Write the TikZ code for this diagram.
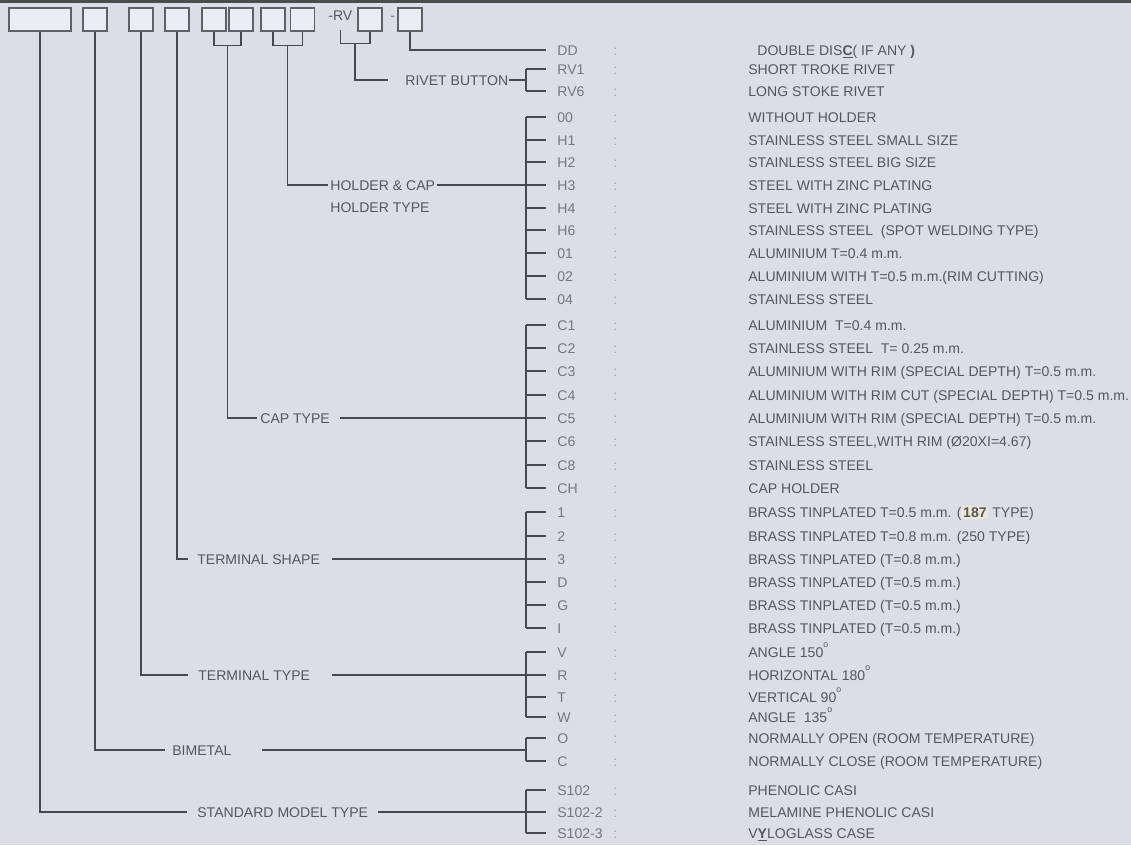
\documentclass[tikz,border=0pt]{standalone}
\usepackage{fontspec}
\setmainfont{Liberation Sans}
\usepackage{xcolor}
\usetikzlibrary{calc,positioning}
\definecolor{bggray}{RGB}{221,221,233}
\definecolor{inkgray}{RGB}{86,86,96}
\definecolor{codegray}{RGB}{118,118,128}
\definecolor{colgray}{RGB}{160,160,170}
\definecolor{linegray}{RGB}{72,72,82}
\definecolor{boxfill}{RGB}{236,236,244}
\definecolor{boxline}{RGB}{96,96,106}
\definecolor{hilite}{RGB}{236,232,212}
\newcommand{\dego}{\raisebox{1.3ex}{\fontsize{5}{5}\selectfont o}}

\begin{document}
\begin{tikzpicture}[x=0.02cm, y=-0.02cm,
    wire/.style={draw=linegray, line width=0.7pt},
    cellbox/.style={draw=boxline, fill=boxfill, line width=0.8pt,
      minimum width=0.48cm, minimum height=0.46cm, inner sep=0pt},
    txt/.style={font=\fontsize{8}{9}\selectfont, text height=5.8pt,
      text depth=0pt, inner ysep=1pt, anchor=west},
    codetxt/.style={txt, text=codegray, inner xsep=0.22cm},
    coltxt/.style={txt, text=colgray, inner xsep=0pt},
    desctxt/.style={txt, text=inkgray, inner xsep=0pt},
    labtxt/.style={txt, text=inkgray, inner xsep=0pt}]
    % page
    \fill[bggray] (0,0) rectangle (1131,845);
    \fill[gray!60!black] (0,0) rectangle (1131,3);
    \coordinate (spine) at (526,0);

    % model number cells
    \node[cellbox, minimum width=1.24cm] (b1) at (40,19.5) {};
    \node[cellbox] (b2) at (95,19.5) {};
    \node[cellbox] (b3) at (141,19.5) {};
    \node[cellbox] (b4) at (177,19.5) {};
    \node[cellbox] (b5) at (214,19.5) {};
    \node[cellbox] (b6) at (241,19.5) {};
    \node[cellbox] (b7) at (273,19.5) {};
    \node[cellbox] (b8) at (302.5,19.5) {};
    \node[labtxt] (rv) at (328,15) {-RV};
    \node[cellbox] (b9) at (370,19.5) {};
    \node[coltxt, text=codegray] (dash) at (390,15) {-};
    \node[cellbox] (b10) at (410,19.5) {};

    % code table
    \node[codetxt] (dd) at (546,50) {DD};
    \node[coltxt] (kdd) at (613,50) {:};
    \node[desctxt] (ddd) at (757,50)
      {DOUBLE DIS\textbf{\underline{C}}( IF ANY \textbf{)}};
    \foreach \nm/\yy/\cd/\ds in {
        rv1/69/RV1/SHORT TROKE RIVET,
        rv6/91/RV6/LONG STOKE RIVET,
        h00/117/00/WITHOUT HOLDER,
        h1/140/H1/STAINLESS STEEL SMALL SIZE,
        h2/162/H2/STAINLESS STEEL BIG SIZE,
        h3/185/H3/STEEL WITH ZINC PLATING,
        h4/208/H4/STEEL WITH ZINC PLATING,
        h6/230/H6/STAINLESS STEEL\ \ (SPOT WELDING TYPE),
        h01/253/01/ALUMINIUM T=0.4 m.m.,
        h02/276/02/ALUMINIUM WITH T=0.5 m.m.(RIM CUTTING),
        h04/299/04/STAINLESS STEEL,
        c1/325/C1/ALUMINIUM\ \ T=0.4 m.m.,
        c2/348/C2/STAINLESS STEEL\ \ T= 0.25 m.m.,
        c3/371/C3/ALUMINIUM WITH RIM (SPECIAL DEPTH) T=0.5 m.m.,
        c4/395/C4/ALUMINIUM WITH RIM CUT (SPECIAL DEPTH) T=0.5 m.m.,
        c5/418/C5/ALUMINIUM WITH RIM (SPECIAL DEPTH) T=0.5 m.m.,
        c6/441/C6/{STAINLESS STEEL,WITH RIM (Ø20XI=4.67)},
        c8/465/C8/STAINLESS STEEL,
        ch/488/CH/CAP HOLDER,
        t1/512/1/{BRASS TINPLATED T=0.5 m.m. ({\fboxsep=1pt\colorbox{hilite}{\textbf{187}}} TYPE)},
        t2/536/2/BRASS TINPLATED T=0.8 m.m. (250 TYPE),
        t3/559/3/BRASS TINPLATED (T=0.8 m.m.),
        td/582/D/BRASS TINPLATED (T=0.5 m.m.),
        tg/605/G/BRASS TINPLATED (T=0.5 m.m.),
        ti/628/I/BRASS TINPLATED (T=0.5 m.m.),
        tv/652/V/ANGLE 150\dego,
        tr/675/R/HORIZONTAL 180\dego,
        tt/697/T/VERTICAL 90\dego,
        tw/717/W/ANGLE\ \ 135\dego,
        bo/738/O/NORMALLY OPEN (ROOM TEMPERATURE),
        bc/761/C/NORMALLY CLOSE (ROOM TEMPERATURE),
        s0/790/S102/PHENOLIC CASI,
        s2/812/S102-2/MELAMINE PHENOLIC CASI,
        s3/833/S102-3/V\textbf{\underline{Y}}LOGLASS CASE}{
      \node[codetxt] (\nm) at (546,\yy) {\cd};
      \node[coltxt] (k\nm) at (613,\yy) {:};
      \node[desctxt] (d\nm) at (748,\yy) {\ds};
    }

    % group labels
    \node[labtxt] (lRiv) at (405,80) {RIVET BUTTON};
    \node[labtxt] (lHold) at (330,185) {HOLDER \& CAP};
    \node[labtxt] (lHoldT) at (330,207) {HOLDER TYPE};
    \node[labtxt] (lCap) at (260,418) {CAP TYPE};
    \node[labtxt] (lShape) at (197,559) {TERMINAL SHAPE};
    \node[labtxt] (lTT) at (198,675) {TERMINAL TYPE};
    \node[labtxt] (lBim) at (172,750) {BIMETAL};
    \node[labtxt] (lStd) at (197,812) {STANDARD MODEL TYPE};

    % brackets under the cells
    \draw[wire] (b5.south) -- ++(0,14) -| (b6.south);
    \draw[wire] (b7.south) -- ++(0,14) -| (b8.south);
    \coordinate (rvj) at ($(b9.south)+(-15,12)$);
    \draw[wire] (rv.south) ++(0,8) |- (b9.south |- rvj) -- (b9.south);

    % leaders to the groups
    \draw[wire] (b10.south) |- (dd.west);
    \draw[wire] (rvj) |- ([xshift=-0.34cm]lRiv.west);
    \draw[wire] (lRiv.east) -- (spine |- lRiv.east);
    \draw[wire] ($(b7.south)!.5!(b8.south)+(0,14)$) |- ([xshift=-0.04cm]lHold.west);
    \draw[wire] ([xshift=0.04cm]lHold.east) -- (spine |- lHold.east);
    \draw[wire] ($(b5.south)!.5!(b6.south)+(0,14)$) |- ([xshift=-0.06cm]lCap.west);
    \draw[wire] ([xshift=0.2cm]lCap.east) -- (spine |- lCap.east);
    \draw[wire] (b4.south) |- ([xshift=-0.18cm]lShape.west);
    \draw[wire] ([xshift=0.24cm]lShape.east) -- (spine |- lShape.east);
    \draw[wire] (b3.south) |- ([xshift=-0.2cm]lTT.west);
    \draw[wire] ([xshift=0.44cm]lTT.east) -- (spine |- lTT.east);
    \draw[wire] (b2.south) |- ([xshift=-0.14cm]lBim.west);
    \draw[wire] ([xshift=0.6cm]lBim.east) -- (spine |- lBim.east);
    \draw[wire] (b1.south) |- ([xshift=-0.2cm]lStd.west);
    \draw[wire] ([xshift=0.2cm]lStd.east) -- (spine |- lStd.east);

    % brackets in front of the codes
    \foreach \first/\last in {rv1/rv6, h00/h04, c1/ch, t1/ti, tv/tw, bo/bc, s0/s3}
      \draw[wire] (spine |- \first.west) -- (spine |- \last.west);
    \foreach \nm in {rv1,rv6,h00,h1,h2,h3,h4,h6,h01,h02,h04,c1,c2,c3,c4,c5,c6,c8,ch,
        t1,t2,t3,td,tg,ti,tv,tr,tt,tw,bo,bc,s0,s2,s3}
      \draw[wire] (spine |- \nm.west) -- (\nm.west);
\end{tikzpicture}
\end{document}
